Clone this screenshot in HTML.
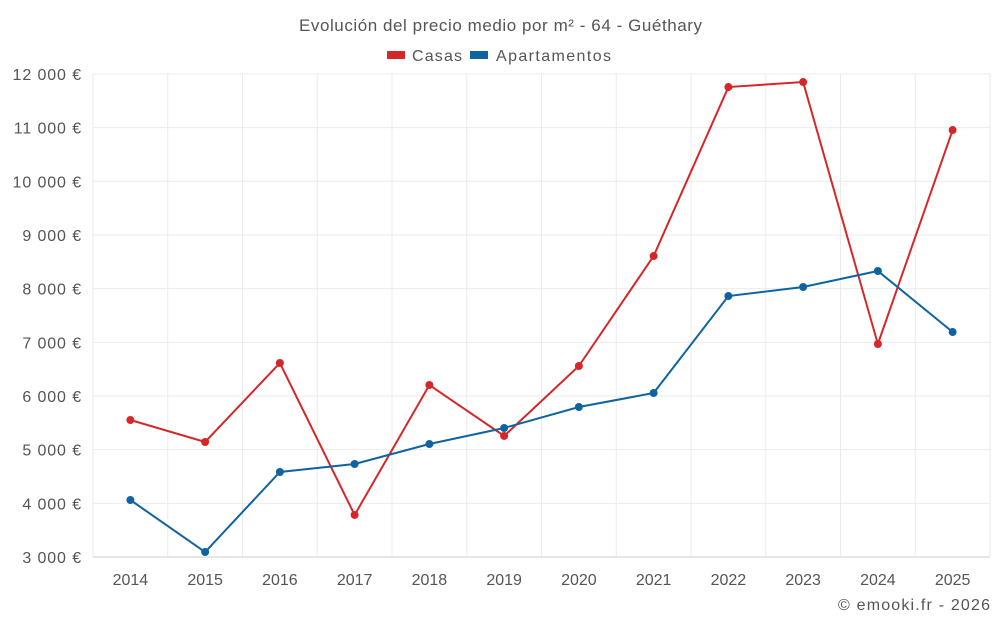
<!DOCTYPE html>
<html><head><meta charset="utf-8"><style>
body{margin:0;background:#fff;font-family:"Liberation Sans",sans-serif;}
svg text{font-family:"Liberation Sans",sans-serif;}
</style></head><body>
<svg id="c" width="1000" height="625" xmlns="http://www.w3.org/2000/svg">
<text x="299" y="31" textLength="403" font-size="17" fill="#555">Evolución del precio medio por m² - 64 - Guéthary</text>
<g>
<g><rect x="387" y="51" width="18" height="8" fill="#d62728"/><text x="412" y="61" textLength="50" font-size="16" fill="#555">Casas</text></g>
<g><rect x="470" y="51" width="18" height="8" fill="#0f64a0"/><text x="496" y="61" textLength="115" font-size="16" fill="#555">Apartamentos</text></g>
</g>
<g id="grid"></g><g id="axes"></g><g id="series"></g>
<text x="838" y="610" textLength="152" font-size="16" fill="#555">© emooki.fr - 2026</text>
</svg>
<script>
const years=["2014","2015","2016","2017","2018","2019","2020","2021","2022","2023","2024","2025"];
const casas=[5553,5143,6615,3783,6205,5255,6559,8608,11757,11850,6969,10956];
const apartamentos=[4062,3093,4584,4733,5105,5404,5795,6056,7863,8031,8329,7192];
const yTicks=[3000,4000,5000,6000,7000,8000,9000,10000,11000,12000];
const yTickLabels=["3 000 €","4 000 €","5 000 €","6 000 €","7 000 €","8 000 €","9 000 €","10 000 €","11 000 €","12 000 €"];
const L=93,R=990,T=74,B=557,ymin=3000,ymax=12000;
const bw=(R-L)/years.length;
const x=i=>L+bw*(i+0.5);
const y=v=>B-(v-ymin)/(ymax-ymin)*(B-T);
const NS="http://www.w3.org/2000/svg";
function mk(t,a,p){const e=document.createElementNS(NS,t);for(const k in a)e.setAttribute(k,a[k]);p.appendChild(e);return e;}
const g=document.getElementById('grid'),ax=document.getElementById('axes'),s=document.getElementById('series');
yTicks.forEach((v,i)=>{
 const l=mk('line',{x1:L,x2:R,y1:y(v),y2:y(v),stroke:i==0?'#ccc':'#ebebeb'},g);
 
 
 const t=mk('text',{x:82,y:y(v)+6,'text-anchor':'end','font-size':16,fill:'#555','letter-spacing':'0.9'},ax);
 t.textContent=yTickLabels[i];
 
 
});
for(let i=0;i<=years.length;i++){
 const l=mk('line',{x1:L+bw*i,x2:L+bw*i,y1:T,y2:B,stroke:'#ebebeb'},g);
 
 
}
years.forEach((yr,i)=>{
 const t=mk('text',{x:x(i),y:585,'text-anchor':'middle','font-size':16,fill:'#555'},ax);
 t.textContent=yr;
 
 
});
function series(data,color,name){
 const p=mk('polyline',{points:data.map((v,i)=>x(i)+','+y(v)).join(' '),fill:'none',stroke:color,'stroke-width':2},s);
 
 
 data.forEach((v,i)=>{
  const c=mk('circle',{cx:x(i),cy:y(v),r:4,fill:color},s);
  
  
 });
}
series(casas,'#d62728','casas');
series(apartamentos,'#0f64a0','apartamentos');
</script>
</body></html>
